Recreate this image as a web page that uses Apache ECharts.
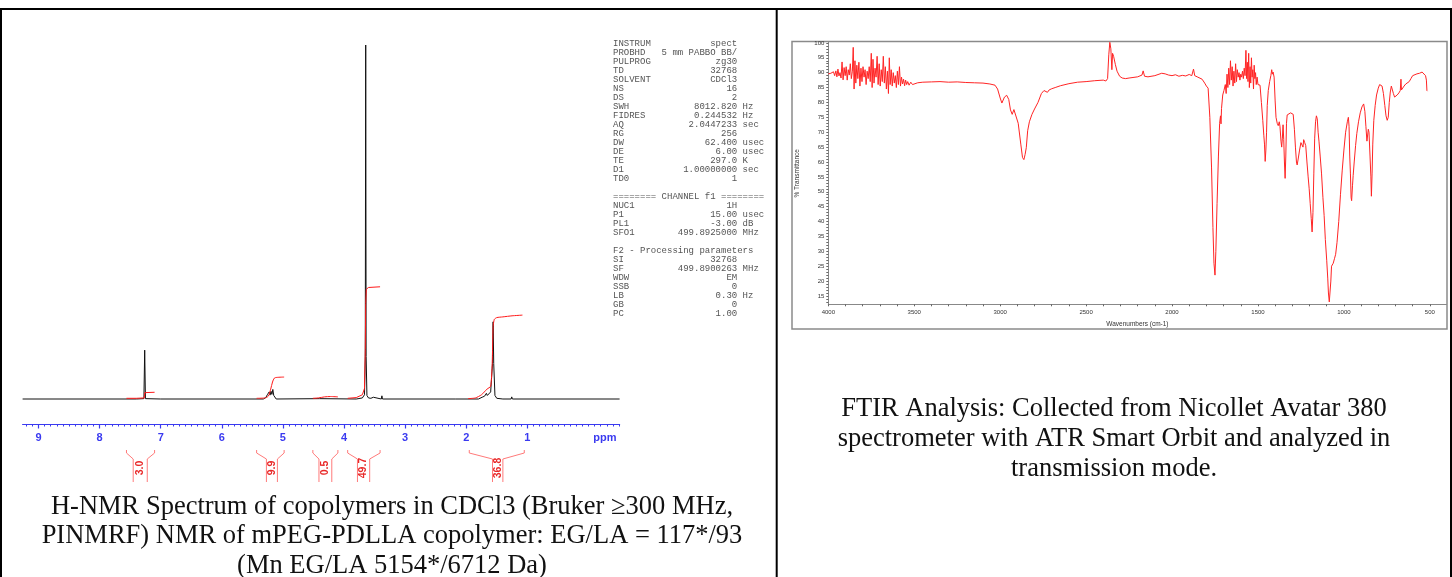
<!DOCTYPE html>
<html><head><meta charset="utf-8">
<script src="https://cdn.jsdelivr.net/npm/echarts@6/dist/echarts.min.js"></script>
<style>html,body{margin:0;padding:0;background:#fff}#c{width:1452px;height:577px}</style>
</head><body><div id="c"></div>
<script>
// ---------- NMR data ----------
const ppmTickLabels = [9, 8, 7, 6, 5, 4, 3, 2, 1];
const nmrSpectrum = [
  [9.26,0],[7.40,0],[7.275,0.1],[7.262,13.8],[7.25,0.1],[7.0,0],[5.32,0],[5.28,0.4],[5.255,1.2],[5.24,0.7],[5.225,2.0],[5.21,1.1],
  [5.195,2.2],[5.18,1.3],[5.165,2.7],[5.15,1.0],[5.135,0.5],[5.11,0],[4.4,0.1],[3.80,0],[3.70,0.3],[3.665,1.2],[3.652,12],[3.645,100],[3.638,12],
  [3.625,1.0],[3.60,0.3],[3.56,0.2],[3.52,0.5],[3.50,0.1],[3.39,0],[3.38,0.9],[3.37,0],[2.18,0],[2.17,0.5],[2.16,0],[1.80,0],
  [1.74,0.5],[1.70,0.8],[1.67,1.6],[1.655,1.0],[1.64,1.2],[1.60,2.0],[1.57,10],[1.56,21.8],[1.55,10],[1.53,1.0],[1.50,0.2],[1.40,0],
  [1.265,0],[1.255,0.6],[1.245,0],[-0.51,0]
];
const integral1 = [[7.56,0.2],[7.40,0.2],[7.27,0.3],[7.26,1.8],[7.24,1.9],[7.10,1.9]];
const integral2 = [[5.43,0.2],[5.30,0.3],[5.24,0.8],[5.20,2.8],[5.17,4.8],[5.14,5.9],[5.10,6.1],[4.98,6.2]];
const integral3 = [[4.51,0.2],[4.42,0.3],[4.32,0.6],[4.22,0.7],[4.10,0.6]];
const integral4 = [[3.94,0.2],[3.80,0.4],[3.70,1.2],[3.665,3],[3.652,14],[3.645,27],[3.635,31],[3.60,31.5],[3.41,31.7]];
const integral5 = [[1.97,0.1],[1.85,0.3],[1.75,1.2],[1.66,2.8],[1.60,3.6],[1.575,10],[1.56,20.5],[1.54,22.5],[1.50,23.0],[1.40,23.2],[1.25,23.5],[1.08,23.7]];
const integralRanges = [[7.56,7.45,7.22,7.10],[5.43,5.27,5.09,4.98],[4.51,4.41,4.20,4.10],[3.94,3.78,3.58,3.41],[1.95,1.57,1.40,1.05]];
const integralValues = ['3.0','9.9','0.5','49.7','36.8'];

// ---------- acquisition parameter text ----------
const acqNames  = ['INSTRUM','PROBHD','PULPROG','TD','SOLVENT','NS','DS','SWH','FIDRES','AQ','RG','DW','DE','TE','D1','TD0'];
const acqValues = ['spect','5 mm PABBO BB/','zg30','32768','CDCl3','16','2','8012.820','0.244532','2.0447233','256','62.400','6.00','297.0','1.00000000','1'];
const acqUnits  = ['','','','','','','','Hz','Hz','sec','','usec','usec','K','sec',''];
const chHeader  = '======== CHANNEL f1 ========';
const chNames   = ['NUC1','P1','PL1','SFO1'];
const chValues  = ['1H','15.00','-3.00','499.8925000'];
const chUnits   = ['','usec','dB','MHz'];
const procHeader = 'F2 - Processing parameters';
const procNames  = ['SI','SF','WDW','SSB','LB','GB','PC'];
const procValues = ['32768','499.8900263','EM','0','0.30','0','1.00'];
const procUnits  = ['','MHz','','','Hz','',''];

// ---------- FTIR data ----------
const ftirXLabels = [4000,3500,3000,2500,2000,1500,1000,500];
const ftirYLabels = [15,20,25,30,35,40,45,50,55,60,65,70,75,80,85,90,95,100];
const ftirSpectrum = [
 [4000,89.6],[3992,89.2],[3985,89.8],[3978,89.4],[3970,90.3],[3963,89.0],[3956,90.6],[3950,88.6],[3944,91.2],[3938,88.9],[3932,90.0],
 [3926,88.2],[3920,93.6],[3914,87.6],[3908,91.7],[3902,89.0],[3896,92.0],[3890,87.5],[3884,91.0],[3878,89.2],[3872,93.0],[3866,88.0],
 [3860,90.5],[3855,98.5],[3850,84.5],[3845,94.0],[3840,86.5],[3834,92.5],[3828,88.0],[3822,93.5],[3816,85.5],[3810,91.5],[3804,87.0],
 [3798,92.0],[3792,88.5],[3786,91.0],[3780,86.0],[3774,90.5],[3768,88.0],[3762,92.0],[3756,87.0],[3750,96.5],[3745,85.0],[3740,94.5],
 [3734,86.5],[3728,91.5],[3722,88.5],[3716,95.5],[3710,86.0],[3704,93.0],[3698,85.5],[3692,91.0],[3686,87.0],[3680,95.5],[3674,86.5],
 [3668,92.0],[3662,84.5],[3656,90.5],[3650,83.0],[3645,95.0],[3640,86.0],[3634,91.0],[3628,85.5],[3622,90.0],[3616,86.5],[3610,89.0],
 [3604,85.0],[3598,90.5],[3592,86.0],[3586,92.0],[3580,85.5],[3574,88.5],[3568,86.2],[3562,87.8],[3556,85.6],[3550,87.5],[3544,86.0],
 [3538,87.0],[3530,85.8],[3520,86.8],[3510,86.0],[3500,86.4],[3480,86.6],[3450,86.8],[3400,86.9],[3350,87.0],[3300,86.8],[3250,86.9],
 [3200,86.7],[3150,86.6],[3100,86.5],[3060,86.2],[3030,85.8],[3015,84.5],[3000,81.5],[2990,79.8],[2975,81.8],[2962,82.4],[2950,81.0],
 [2940,77.5],[2930,76.0],[2920,77.6],[2910,77.0],[2895,73.0],[2880,66.0],[2870,61.5],[2862,60.8],[2855,62.5],[2848,64.8],[2840,70.5],
 [2830,73.5],[2815,76.0],[2800,77.8],[2780,80.0],[2760,83.0],[2745,84.0],[2735,83.7],[2725,83.4],[2715,84.2],[2700,84.6],[2690,84.2],
 [2680,85.0],[2650,85.6],[2600,86.3],[2550,86.8],[2500,87.0],[2450,87.3],[2400,87.5],[2385,87.2],[2375,88.0],[2368,96.0],[2362,100.2],
 [2356,98.0],[2350,91.0],[2346,96.5],[2340,95.5],[2330,92.8],[2320,90.5],[2305,88.8],[2290,88.2],[2270,88.0],[2250,88.2],[2200,88.6],
 [2175,89.2],[2168,90.6],[2160,88.8],[2140,88.6],[2100,89.0],[2060,89.8],[2040,89.6],[2020,89.2],[2000,89.0],[1980,89.3],[1960,88.8],
 [1940,89.1],[1920,88.9],[1900,89.4],[1885,89.0],[1875,91.2],[1868,89.0],[1860,89.6],[1850,88.5],[1840,88.8],[1825,87.8],[1810,86.5],
 [1800,85.5],[1790,84.8],[1780,75.0],[1770,58.0],[1762,38.0],[1756,26.0],[1750,22.0],[1745,30.0],[1738,46.0],[1730,62.0],[1723,73.0],
 [1718,75.5],[1715,72.8],[1712,78.0],[1705,82.5],[1698,84.0],[1690,86.0],[1685,83.0],[1680,89.5],[1675,85.0],[1670,91.5],[1665,86.0],
 [1660,94.0],[1655,87.5],[1650,92.0],[1645,85.5],[1640,90.5],[1635,86.5],[1630,93.0],[1625,87.0],[1620,91.0],[1615,88.5],[1610,90.0],
 [1605,87.5],[1600,89.5],[1595,88.5],[1590,90.5],[1585,88.0],[1580,91.5],[1575,89.0],[1570,97.5],[1566,88.0],[1562,93.5],[1558,87.0],
 [1554,96.5],[1550,85.0],[1546,92.0],[1542,86.5],[1538,95.0],[1534,88.5],[1530,91.0],[1526,84.5],[1522,92.5],[1518,88.0],[1514,90.0],
 [1510,86.0],[1505,88.5],[1500,86.0],[1495,85.5],[1488,85.8],[1480,80.0],[1472,74.0],[1466,69.0],[1462,66.0],[1458,60.2],[1454,64.0],
 [1450,70.0],[1446,79.0],[1440,84.0],[1432,87.0],[1425,89.0],[1420,91.0],[1416,89.5],[1412,90.2],[1406,88.5],[1400,80.5],[1395,75.0],
 [1388,73.0],[1382,72.2],[1376,73.5],[1372,72.0],[1366,67.0],[1362,65.0],[1358,68.0],[1354,72.5],[1350,67.5],[1346,60.0],[1342,54.5],
 [1338,62.0],[1334,73.0],[1330,75.8],[1320,76.2],[1310,76.5],[1300,76.8],[1295,76.0],[1288,71.0],[1282,65.0],[1276,60.0],[1272,59.0],
 [1266,61.0],[1258,64.0],[1250,66.5],[1244,67.0],[1238,65.0],[1234,67.5],[1228,66.5],[1222,65.5],[1215,60.0],[1208,55.0],[1202,51.0],
 [1196,46.0],[1190,41.0],[1185,36.5],[1180,43.0],[1175,56.0],[1170,68.0],[1165,73.5],[1160,75.5],[1155,74.5],[1150,70.0],[1145,67.0],
 [1138,62.0],[1130,56.0],[1122,48.0],[1115,42.0],[1108,34.0],[1100,27.0],[1094,21.0],[1090,16.0],[1085,13.0],[1080,13.5],[1076,20.0],
 [1072,25.0],[1068,24.5],[1062,26.0],[1055,27.5],[1048,29.0],[1040,33.0],[1030,40.0],[1020,49.0],[1010,57.0],[1000,64.0],[990,70.0],
 [980,73.5],[974,75.0],[970,72.0],[966,62.0],[962,56.0],[958,48.0],[955,47.0],[950,52.0],[946,55.5],[940,60.0],[932,65.5],[925,69.5],
 [915,73.5],[905,76.5],[895,78.5],[885,79.5],[878,77.0],[872,72.0],[866,67.0],[862,66.5],[858,71.0],[854,70.0],[848,62.0],[843,55.0],
 [840,48.5],[836,56.0],[832,66.0],[826,74.0],[818,79.0],[810,82.5],[800,84.8],[792,86.0],[785,86.5],[778,85.5],[770,83.0],[762,79.0],
 [755,75.5],[748,74.0],[742,75.0],[736,80.0],[730,83.5],[724,85.5],[718,85.0],[712,83.0],[705,81.8],[698,81.5],[690,82.5],[680,83.2],
 [672,84.0],[668,87.8],[665,84.2],[660,84.6],[650,85.5],[640,86.2],[630,86.5],[620,87.0],[610,88.0],[600,89.0],[590,89.3],[575,89.6],
 [560,89.8],[545,90.2],[535,89.8],[525,89.0],[520,87.5],[517,84.0],[514,83.8]
];

// ---------- helpers ----------
function fmtLine(name, value, unit) {
  let s = name.padEnd(23 - value.length, ' ') + value;
  if (unit) s += ' ' + unit;
  return s;
}
const monoFont = '"Liberation Mono", "DejaVu Sans Mono", monospace';
const paramGraphics = [];
const lh = 9;
function addLine(text, y) {
  paramGraphics.push({type:'text', left: 613, top: y - 5, silent:true,
    style:{text, font: '9px ' + monoFont, fill:'#555'}});
}
acqNames.forEach((n,i)=>addLine(fmtLine(n, acqValues[i], acqUnits[i]), 44 + i*lh));
addLine(chHeader, 197);
chNames.forEach((n,i)=>addLine(fmtLine(n, chValues[i], chUnits[i]), 206 + i*lh));
addLine(procHeader, 251);
procNames.forEach((n,i)=>addLine(fmtLine(n, procValues[i], procUnits[i]), 260 + i*lh));

const serif = '"Liberation Serif", "Times New Roman", serif';
const captionNMR = ['H-NMR Spectrum of copolymers in CDCl3 (Bruker \u2265300 MHz,', 'PINMRF) NMR of mPEG-PDLLA copolymer: EG/LA = 117*/93', '(Mn EG/LA 5154*/6712 Da)'];
const captionFTIR = ['FTIR Analysis: Collected from Nicollet Avatar 380', 'spectrometer with ATR Smart Orbit and analyzed in', 'transmission mode.'];
const captionGraphics = [];
captionNMR.forEach((t,i)=>captionGraphics.push({type:'text', x:392, y:507 + i*29.5, silent:true,
  style:{text:t, font:'26.5px ' + serif, fill:'#111', textAlign:'center', textVerticalAlign:'middle'}}));
captionFTIR.forEach((t,i)=>captionGraphics.push({type:'text', x:1114, y:409 + i*30, silent:true,
  style:{text:t, font:'26.5px ' + serif, fill:'#111', textAlign:'center', textVerticalAlign:'middle'}}));

const nmrMinorTicks = [];
for (let v = -5; v <= 92; v++) nmrMinorTicks.push(v / 10);
const ftirXTicks = [];
for (let v = 500; v <= 4000; v += 100) ftirXTicks.push(v);
const ftirYTicks = [];
for (let v = 13; v <= 100; v++) ftirYTicks.push(v);

const blue = '#3a3af0';
const sans = '"Liberation Sans", Arial';
const chart = echarts.init(document.getElementById('c'), null, {renderer:'canvas'});
const integralStyle = {color:'#ff1a1a', width:1};
chart.setOption({
  animation:false,
  backgroundColor:'#fff',
  grid:[
    {left:22.6, right:1452-619.6, top:45, bottom:577-424},
    {left:828.3, right:5.5, top:42.3, bottom:577-304.3}
  ],
  xAxis:[
    {gridIndex:0, type:'value', inverse:true, min:-0.51, max:9.26, position:'bottom',
     axisLine:{onZero:false, lineStyle:{color:blue, width:1.2}},
     axisTick:{customValues:ppmTickLabels, length:4.5, lineStyle:{color:blue, width:1.2}},
     axisLabel:{customValues:ppmTickLabels.concat([-0.27]), formatter:v=> v < 0 ? 'ppm' : String(v),
       color:blue, fontWeight:'bold', fontSize:11, fontFamily:sans, margin:8},
     splitLine:{show:false}},
    {gridIndex:0, type:'value', inverse:true, min:-0.51, max:9.26, position:'bottom',
     axisLine:{show:false, onZero:false},
     axisTick:{customValues:nmrMinorTicks, length:2.5, lineStyle:{color:blue, width:1}},
     axisLabel:{show:false}, splitLine:{show:false}},
    {gridIndex:1, type:'value', inverse:true, min:403, max:4000, position:'bottom',
     axisLine:{onZero:false, lineStyle:{color:'#888', width:1}},
     axisTick:{customValues:ftirXTicks, length:2, lineStyle:{color:'#666'}},
     axisLabel:{customValues:ftirXLabels, formatter:v=>String(v), fontSize:6, color:'#333', margin:5, fontFamily:sans},
     name:'Wavenumbers (cm-1)', nameLocation:'middle', nameGap:16,
     nameTextStyle:{fontSize:6.5, color:'#333', fontFamily:sans},
     splitLine:{show:false}}
  ],
  yAxis:[
    {gridIndex:0, type:'value', min:-7.06, max:100, show:false},
    {gridIndex:1, type:'value', min:12.2, max:100.2,
     axisLine:{show:true, onZero:false, lineStyle:{color:'#888', width:1}},
     axisTick:{show:true, customValues:ftirYTicks, length:2, lineStyle:{color:'#666'}},
     axisLabel:{customValues:ftirYLabels, formatter:v=>String(v), fontSize:6, color:'#333', margin:4, fontFamily:sans},
     name:'% Transmittance', nameLocation:'middle', nameRotate:90, nameGap:28,
     nameTextStyle:{fontSize:6.5, color:'#333', fontFamily:sans},
     splitLine:{show:false}}
  ],
  series:[
    {type:'line', xAxisIndex:0, yAxisIndex:0, data:nmrSpectrum, showSymbol:false, lineStyle:{color:'#111', width:1}, silent:true},
    {type:'line', xAxisIndex:0, yAxisIndex:0, data:integral1, showSymbol:false, lineStyle:integralStyle, smooth:false},
    {type:'line', xAxisIndex:0, yAxisIndex:0, data:integral2, showSymbol:false, lineStyle:integralStyle, smooth:0.3},
    {type:'line', xAxisIndex:0, yAxisIndex:0, data:integral3, showSymbol:false, lineStyle:integralStyle, smooth:0.3},
    {type:'line', xAxisIndex:0, yAxisIndex:0, data:integral4, showSymbol:false, lineStyle:integralStyle, smooth:false},
    {type:'line', xAxisIndex:0, yAxisIndex:0, data:integral5, showSymbol:false, lineStyle:integralStyle, smooth:0.2},
    {type:'custom', xAxisIndex:0, yAxisIndex:0, clip:false, data:integralRanges,
     renderItem:function(params, api){
       const cs = params.coordSys;
       const ay = cs.y + cs.height;
       const xs = [0,1,2,3].map(k=>api.coord([api.value(k), 0])[0]);
       const top = ay + 26, sh = ay + 29, inn = ay + 35, bot = ay + 58;
       const st = {stroke:'#ff7a7a', lineWidth:1, fill:null};
       return {type:'group', children:[
         {type:'polyline', shape:{points:[[xs[0],top],[xs[0],sh],[xs[1],inn],[xs[1],bot]]}, style:st},
         {type:'polyline', shape:{points:[[xs[3],top],[xs[3],sh],[xs[2],inn],[xs[2],bot]]}, style:st},
         {type:'text', x:(xs[1]+xs[2])/2, y:ay+44, rotation:Math.PI/2,
          style:{text:integralValues[params.dataIndex], fill:'#e82828', font:'bold 10.5px ' + sans,
                 textAlign:'center', textVerticalAlign:'middle'}}
       ]};
     }},
    {type:'line', xAxisIndex:2, yAxisIndex:1, data:ftirSpectrum, showSymbol:false, lineStyle:{color:'#ff2424', width:1}, silent:true}
  ],
  graphic:[
    {type:'line', shape:{x1:0, y1:9, x2:1452, y2:9}, style:{stroke:'#000', lineWidth:2}, silent:true},
    {type:'line', shape:{x1:1, y1:9, x2:1, y2:577}, style:{stroke:'#000', lineWidth:2}, silent:true},
    {type:'line', shape:{x1:776.7, y1:9, x2:776.7, y2:577}, style:{stroke:'#000', lineWidth:2}, silent:true},
    {type:'line', shape:{x1:1451, y1:9, x2:1451, y2:577}, style:{stroke:'#000', lineWidth:2}, silent:true},
    {type:'rect', shape:{x:792, y:41.5, width:655, height:287.5}, style:{stroke:'#8a8a8a', lineWidth:1.5, fill:null}, silent:true}
  ].concat(paramGraphics, captionGraphics)
});
</script></body></html>
